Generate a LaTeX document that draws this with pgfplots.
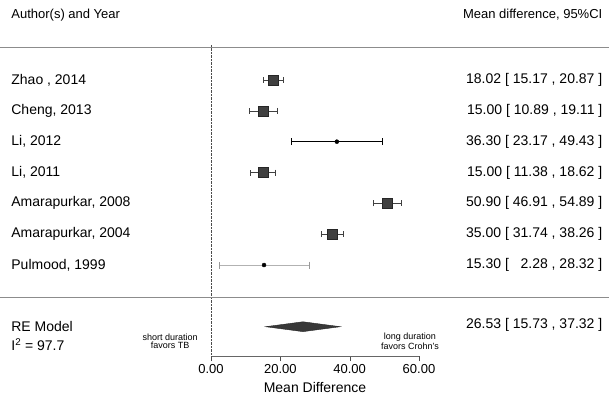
\documentclass[border=0pt]{standalone}
\usepackage{pgfplots}
\pgfplotsset{compat=1.18}
\usepackage{pgfplotstable}
\usepackage{fontspec}
\setmainfont{Liberation Sans}
\newcommand{\fs}{\fontsize{14}{16}\selectfont}
\newcommand{\fh}{\fontsize{13}{15}\selectfont}
\newcommand{\fsm}{\fontsize{9}{7.5}\selectfont}

\pgfplotstableread{
row est lo hi
7 18.02 15.17 20.87
6 15.00 10.89 19.11
4 15.00 11.38 18.62
3 50.90 46.91 54.89
2 35.00 31.74 38.26
}\bigstudies
\pgfplotstableread{
row est lo hi
5 36.30 23.17 49.43
}\smallA
\pgfplotstableread{
row est lo hi
1 15.30 2.28 28.32
}\smallB

\begin{document}
\begin{tikzpicture}
\path[use as bounding box] (0,0) rectangle (609pt,401pt);
\begin{axis}[
  at={(211pt,45pt)}, anchor=south west,
  scale only axis, width=208pt, height=309pt,
  xmin=0, xmax=60, ymin=-1.95, ymax=8.07,
  axis x line=bottom, axis y line=none,
  axis line style={-, black!60},
  xtick={0,20,40,60}, xticklabels={0.00,20.00,40.00,60.00},
  tick align=outside, major tick length=5pt,
  tick style={black!70},
  xlabel={Mean Difference},
  xlabel style={font=\fs, yshift=-2pt},
  ticklabel style={font=\fh},
  clip=false,
]
% reference lines
\addplot[densely dotted, black!70] coordinates {(0,-1.95) (0,8.15)};
\addplot[black!45, line width=0.6pt] coordinates {(-60.87,8.07) (114.8,8.07)};
\addplot[black!45, line width=0.6pt] coordinates {(-60.87,-0.04) (114.8,-0.04)};

% studies with large weights
\addplot[only marks, mark=square*, mark size=5pt,
  mark options={fill=black!75, draw=black!85},
  error bars/.cd, x dir=both, x explicit,
  error bar style={black!75, line width=0.6pt},
  error mark options={rotate=90, black!75, mark size=3pt}]
  table[x=est, y=row,
        x error minus expr=\thisrow{est}-\thisrow{lo},
        x error plus expr=\thisrow{hi}-\thisrow{est}] {\bigstudies};
% small weight studies
\addplot[only marks, mark=*, mark size=2pt,
  mark options={fill=black, draw=black},
  error bars/.cd, x dir=both, x explicit,
  error bar style={black, line width=0.6pt},
  error mark options={rotate=90, black, mark size=3.5pt}]
  table[x=est, y=row,
        x error minus expr=\thisrow{est}-\thisrow{lo},
        x error plus expr=\thisrow{hi}-\thisrow{est}] {\smallA};
\addplot[only marks, mark=*, mark size=2pt,
  mark options={fill=black, draw=black},
  error bars/.cd, x dir=both, x explicit,
  error bar style={black!30, line width=0.6pt},
  error mark options={rotate=90, black!40, mark size=3.5pt}]
  table[x=est, y=row,
        x error minus expr=\thisrow{est}-\thisrow{lo},
        x error plus expr=\thisrow{hi}-\thisrow{est}] {\smallB};

% RE model diamond
\addplot[fill=black!78, draw=black!85] coordinates
  {(15.73,-1) (26.53,-0.84) (37.32,-1) (26.53,-1.16)} -- cycle;

% headers
\node[anchor=west, font=\fh] at (axis cs:-58.6,9.11) {Author(s) and Year};
\node[anchor=east, font=\fh] at (axis cs:113.9,9.11) {Mean difference, 95\%CI};

% study labels
\node[anchor=west, font=\fs] at (axis cs:-58.6,7) {Zhao , 2014};
\node[anchor=west, font=\fs] at (axis cs:-58.6,6) {Cheng, 2013};
\node[anchor=west, font=\fs] at (axis cs:-58.6,5) {Li, 2012};
\node[anchor=west, font=\fs] at (axis cs:-58.6,4) {Li, 2011};
\node[anchor=west, font=\fs] at (axis cs:-58.6,3) {Amarapurkar, 2008};
\node[anchor=west, font=\fs] at (axis cs:-58.6,2) {Amarapurkar, 2004};
\node[anchor=west, font=\fs] at (axis cs:-58.6,1) {Pulmood, 1999};
\node[anchor=west, font=\fs] at (axis cs:-58.6,-1) {RE Model};
\node[anchor=west, font=\fs] at (axis cs:-58.6,-1.58) {I\textsuperscript{2} = 97.7};

% estimates
\node[anchor=east, font=\fs] at (axis cs:113.9,7) {18.02 [ 15.17 , 20.87 ]};
\node[anchor=east, font=\fs] at (axis cs:113.9,6) {15.00 [ 10.89 , 19.11 ]};
\node[anchor=east, font=\fs] at (axis cs:113.9,5) {36.30 [ 23.17 , 49.43 ]};
\node[anchor=east, font=\fs] at (axis cs:113.9,4) {15.00 [ 11.38 , 18.62 ]};
\node[anchor=east, font=\fs] at (axis cs:113.9,3) {50.90 [ 46.91 , 54.89 ]};
\node[anchor=east, font=\fs] at (axis cs:113.9,2) {35.00 [ 31.74 , 38.26 ]};
\node[anchor=east, font=\fs] at (axis cs:113.9,1) {15.30 [ \phantom{0}2.28 , 28.32 ]};
\node[anchor=east, font=\fs] at (axis cs:113.9,-0.95) {26.53 [ 15.73 , 37.32 ]};

% direction notes
\node[align=center, font=\fsm, inner sep=0pt] at (axis cs:-11.8,-1.47) {short duration\\favors TB};
\node[align=center, font=\fsm, inner sep=0pt] at (axis cs:57.4,-1.47) {long duration\\favors Crohn's};
\end{axis}
\end{tikzpicture}
\end{document}
